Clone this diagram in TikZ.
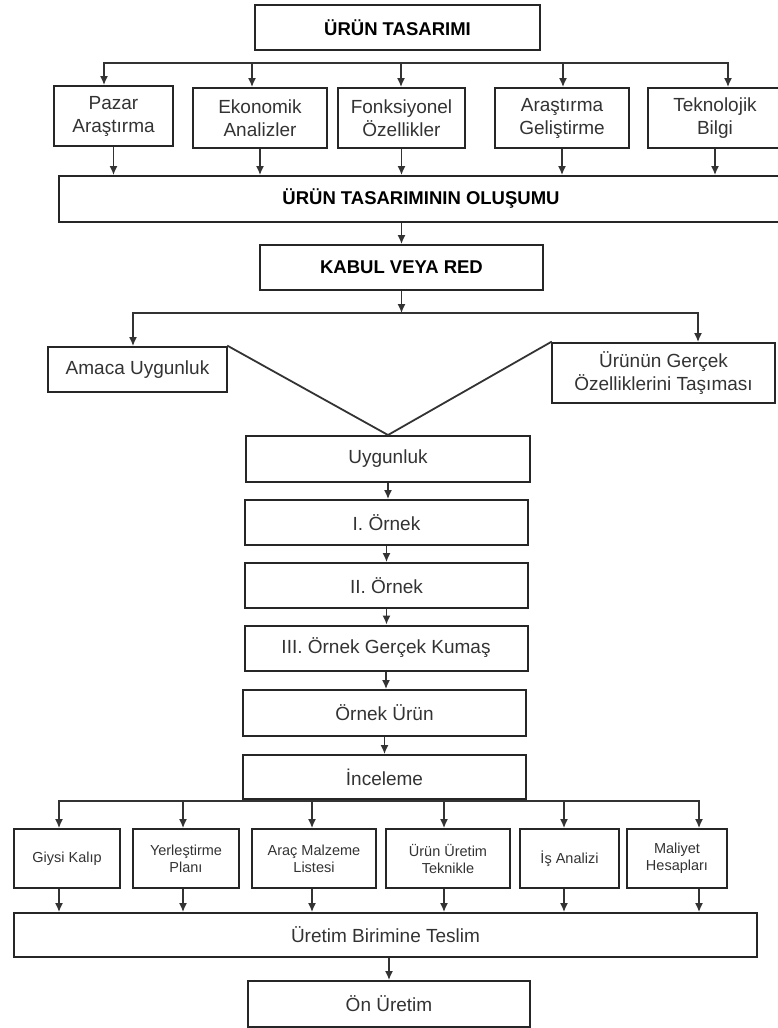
\documentclass[tikz,border=0pt]{standalone}
\usepackage{fontspec}
\setmainfont{Liberation Sans}
\usepackage{tikz}
\usetikzlibrary{arrows.meta}

\begin{document}
\begin{tikzpicture}[x=1pt,y=-1pt,
  >={Latex[length=9pt,width=8pt]},
  kutu/.style={draw=black!85,line width=2pt,inner sep=0pt,align=center,
    text=black!80,font=\fontsize{19}{23}\selectfont},
  baslik/.style={kutu,text=black,font=\bfseries\fontsize{18.5}{22}\selectfont},
  kucuk/.style={kutu,line width=1.9pt,font=\fontsize{14.5}{17}\selectfont},
  ok/.style={->,line width=1.4pt,draw=black!80},
  hat/.style={line width=1.8pt,draw=black!80,line cap=rect}]
  \path[use as bounding box] (0,0) rectangle (777,1028);

  \node[baslik,minimum width=285pt,minimum height=45pt] at (397.5,27.5) (tasarim) {ÜRÜN TASARIMI};

  \node[kutu,minimum width=119pt,minimum height=60pt] at (113.5,116) (pazar) {Pazar\\Araştırma};
  \node[kutu,minimum width=134pt,minimum height=60pt] at (260,118) (ekon) {Ekonomik\\Analizler};
  \node[kutu,minimum width=127pt,minimum height=60pt] at (401.5,118) (fonk) {Fonksiyonel\\Özellikler};
  \node[kutu,minimum width=134pt,minimum height=60pt] at (562,118) (arge) {Araştırma\\Geliştirme};
  \node[kutu,minimum width=134pt,minimum height=60pt] at (715,118) (tekno) {Teknolojik\\Bilgi};

  \node[baslik,minimum width=724pt,minimum height=46pt] at (421,199) (olusum) {ÜRÜN TASARIMININ OLUŞUMU};
  \node[baslik,minimum width=283pt,minimum height=45pt] at (401.5,267.5) (kabul) {KABUL VEYA RED};

  \node[kutu,minimum width=179pt,minimum height=45pt] at (137.5,369.5) (amaca) {Amaca Uygunluk};
  \node[kutu,minimum width=223pt,minimum height=60pt] at (663.5,373) (ozellik) {Ürünün Gerçek\\Özelliklerini Taşıması};

  \node[kutu,minimum width=284pt,minimum height=46pt] at (388,459) (uygun) {Uygunluk};
  \node[kutu,minimum width=283pt,minimum height=45pt] at (386.5,522.5) (ornek1) {I. Örnek};
  \node[kutu,minimum width=283pt,minimum height=45pt] at (386.5,585.5) (ornek2) {II. Örnek};
  \node[kutu,minimum width=283pt,minimum height=45pt] at (386,648) (ornek3) {III. Örnek Gerçek Kumaş};
  \node[kutu,minimum width=283pt,minimum height=46pt] at (384.5,713) (ornekurun) {Örnek Ürün};
  \node[kutu,minimum width=283pt,minimum height=44pt] at (384.5,777) (inceleme) {İnceleme};

  \node[kucuk,minimum width=106pt,minimum height=59pt] at (67,858.5) (giysi) {Giysi Kalıp};
  \node[kucuk,minimum width=106pt,minimum height=59pt] at (186,858.5) (yerles) {Yerleştirme\\Planı};
  \node[kucuk,minimum width=124pt,minimum height=59pt] at (314,858.5) (arac) {Araç Malzeme\\Listesi};
  \node[kucuk,minimum width=124pt,minimum height=59pt] at (448,858.5) (teknik) {Ürün Üretim\\Teknikle};
  \node[kucuk,minimum width=99pt,minimum height=59pt] at (569.5,858.5) (isanaliz) {İş Analizi};
  \node[kucuk,minimum width=100pt,minimum height=59pt] at (677,858.5) (maliyet) {Maliyet\\Hesapları};

  \node[kutu,minimum width=743pt,minimum height=44pt] at (385.5,935) (teslim) {Üretim Birimine Teslim};
  \node[kutu,minimum width=282pt,minimum height=46pt] at (389,1004) (onuretim) {Ön Üretim};

  % dallanma noktalari
  \coordinate (t1) at (104,63);
  \coordinate (t2) at (252,63);
  \coordinate (t3) at (401,63);
  \coordinate (t4) at (563,63);
  \coordinate (t5) at (728,63);
  \coordinate (k0) at (401.5,313);
  \coordinate (k1) at (133,313);
  \coordinate (k2) at (698,313);
  \coordinate (i1) at (59,801);
  \coordinate (i2) at (183,801);
  \coordinate (i3) at (312,801);
  \coordinate (i4) at (444,801);
  \coordinate (i5) at (564,801);
  \coordinate (i6) at (699,801);

  \draw[hat] (t1) -- (t5);
  \foreach \t/\k in {t1/pazar,t2/ekon,t3/fonk,t4/arge,t5/tekno}
    \draw[ok] (\t) -- (\t |- \k.north);
  \foreach \k in {pazar,ekon,fonk,arge,tekno}
    \draw[ok] (\k.south) -- (\k.south |- olusum.north);

  \draw[ok] (olusum.south -| kabul.north) -- (kabul.north);
  \draw[ok] (kabul.south) -- (k0);
  \draw[hat] (k1) -- (k2);
  \draw[ok] (k1) -- (k1 |- amaca.north);
  \draw[ok] (k2) -- (k2 |- ozellik.north);
  \draw[hat] (amaca.north east) -- (uygun.north) -- (ozellik.north west);

  \draw[ok] (uygun.south) -- (uygun.south |- ornek1.north);
  \draw[ok] (ornek1.south) -- (ornek1.south |- ornek2.north);
  \draw[ok] (ornek2.south) -- (ornek2.south |- ornek3.north);
  \draw[ok] (ornek3.south) -- (ornek3.south |- ornekurun.north);
  \draw[ok] (ornekurun.south) -- (ornekurun.south |- inceleme.north);

  \draw[hat] (i1) -- (i6);
  \foreach \i/\k in {i1/giysi,i2/yerles,i3/arac,i4/teknik,i5/isanaliz,i6/maliyet}{
    \draw[ok] (\i) -- (\i |- \k.north);
    \draw[ok] (\i |- \k.south) -- (\i |- teslim.north);
  }
  \draw[ok] (teslim.south -| onuretim.north) -- (onuretim.north);
\end{tikzpicture}
\end{document}
